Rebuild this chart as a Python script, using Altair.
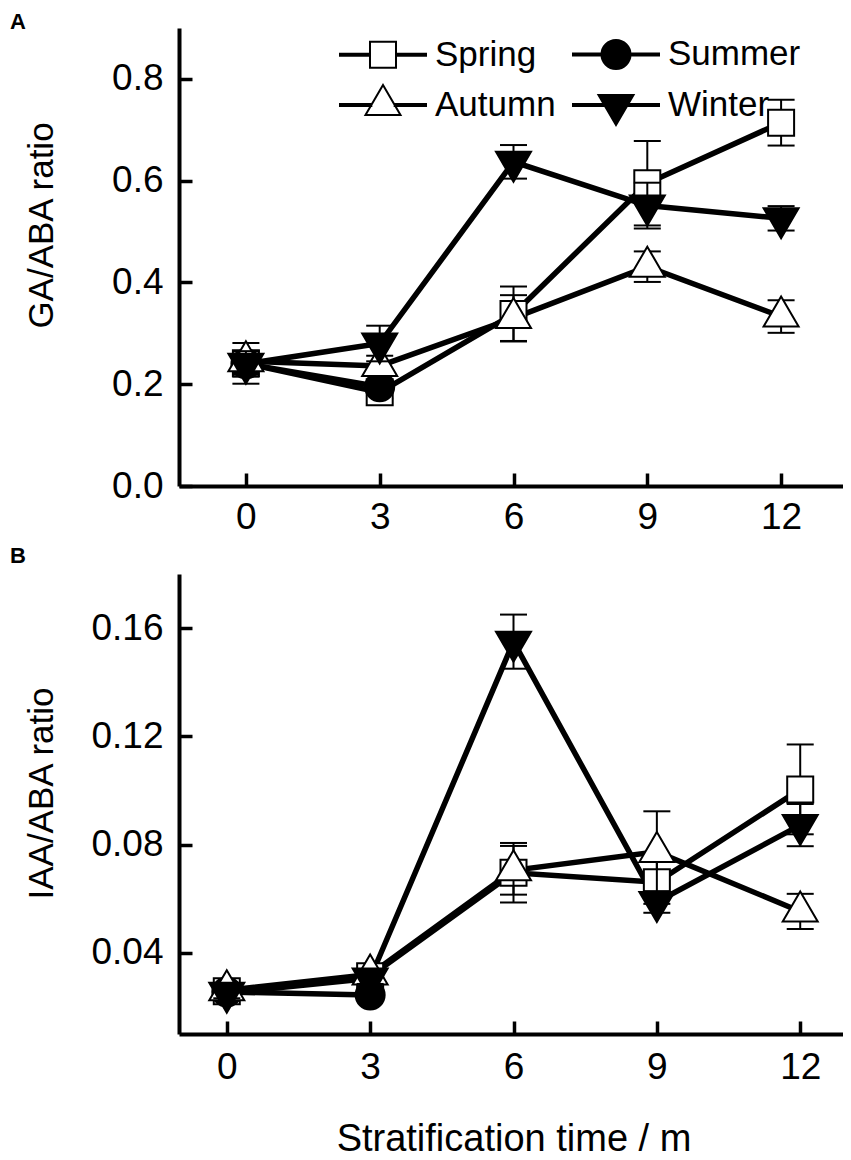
import altair as alt
import pandas as pd

# ---------------- data ----------------
time_points = [0, 3, 6, 9, 12]
seasons = ["Spring", "Summer", "Autumn", "Winter"]
x_ticks = [0, 3, 6, 9, 12]

# Panel A: GA/ABA ratio
ga_spring = [0.241, 0.184, 0.338, 0.595, 0.714]
ga_spring_err = [0.040, 0.012, 0.054, 0.083, 0.045]
ga_summer = [0.240, 0.195]
ga_summer_err = [0.020, 0.010]
ga_autumn = [0.245, 0.236, 0.330, 0.431, 0.333]
ga_autumn_err = [0.020, 0.020, 0.045, 0.030, 0.032]
ga_winter = [0.240, 0.280, 0.637, 0.551, 0.526]
ga_winter_err = [0.025, 0.035, 0.033, 0.045, 0.024]
ga_ticks = [0.0, 0.2, 0.4, 0.6, 0.8]

# Panel B: IAA/ABA ratio
iaa_spring = [0.0258, 0.0313, 0.0696, 0.0661, 0.1004]
iaa_spring_err = [0.0020, 0.0020, 0.0110, 0.0080, 0.0166]
iaa_summer = [0.0255, 0.0244]
iaa_summer_err = [0.0015, 0.0015]
iaa_autumn = [0.0262, 0.0320, 0.0705, 0.0773, 0.0553]
iaa_autumn_err = [0.0020, 0.0020, 0.0090, 0.0150, 0.0065]
iaa_winter = [0.0252, 0.0305, 0.1550, 0.0588, 0.0872]
iaa_winter_err = [0.0020, 0.0020, 0.0100, 0.0040, 0.0078]
iaa_ticks = [0.04, 0.08, 0.12, 0.16]

# ---------------- style ----------------
FONT = "Liberation Sans"
MARK_PATH = {
    "Spring": "M-0.867,-0.867H0.867V0.867H-0.867Z",
    "Summer": "M-0.967,0A0.967,0.967 0 1,0 0.967,0A0.967,0.967 0 1,0 -0.967,0Z",
    "Autumn": "M0,-1.333L1.167,0.667L-1.167,0.667Z",
    "Winter": "M0,1.333L1.167,-0.667L-1.167,-0.667Z",
}
EDGE = {"Spring": 0.867, "Summer": 0.967, "Autumn": 0.778, "Winter": 0.778}
FILL = {"Spring": "white", "Summer": "black", "Autumn": "white", "Winter": "black"}


def stub_path(a):
    return (f"M-2.867,-0.067H-{a}V0.067H-2.867Z "
            f"M{a},-0.067H2.867V0.067H{a}Z ")


LEGEND_PATH = [stub_path(EDGE[s]) + MARK_PATH[s] for s in seasons]


def build_df(series, errs):
    rows = []
    for s in seasons:
        for t, v, e in zip(time_points, series[s], errs[s]):
            rows.append({"season": s, "time": t, "value": v,
                         "lo": v - e, "hi": v + e})
    return pd.DataFrame(rows)


df_a = build_df(
    {"Spring": ga_spring, "Summer": ga_summer, "Autumn": ga_autumn, "Winter": ga_winter},
    {"Spring": ga_spring_err, "Summer": ga_summer_err, "Autumn": ga_autumn_err, "Winter": ga_winter_err},
)
df_b = build_df(
    {"Spring": iaa_spring, "Summer": iaa_summer, "Autumn": iaa_autumn, "Winter": iaa_winter},
    {"Spring": iaa_spring_err, "Summer": iaa_summer_err, "Autumn": iaa_autumn_err, "Winter": iaa_winter_err},
)

W = 669

LEG = dict(
    orient="none", legendX=161, legendY=8.5, direction="horizontal", columns=2,
    columnPadding=12, rowPadding=7, title=None,
    labelFont=FONT, labelFontSize=35, labelColor="black", labelOffset=34.5, labelLimit=400,
    symbolSize=900, symbolOffset=25.5, symbolStrokeWidth=2, symbolOpacity=1,
)


def panel(df, xdom, ydom, yticks, yfmt, ytitle, ytitle_y, xlabel_pad,
          xtitle, xtitle_y, letter, letter_offset, h, legend):
    xs = alt.Scale(domain=xdom, nice=False, zero=False)
    ys = alt.Scale(domain=ydom, nice=False, zero=False)
    base = alt.Chart(df)

    xaxis_kw = dict(orient="bottom", values=x_ticks, format="d", ticks=False, tickSize=0,
                    labelPadding=xlabel_pad, labelFont=FONT, labelFontSize=37,
                    labelColor="black", labelFlush=False, domainColor="black",
                    domainWidth=4, grid=False, title=xtitle, titleFont=FONT,
                    titleFontSize=38, titleFontWeight="normal", titleColor="black")
    if xtitle:
        xaxis_kw.update(titleY=xtitle_y, titleBaseline="alphabetic")
    x_main_axis = alt.Axis(**xaxis_kw)
    y_main_axis = alt.Axis(orient="left", values=yticks, format=yfmt, ticks=False,
                           tickSize=0, labelPadding=16, labelFont=FONT, labelFontSize=37,
                           labelColor="black", labelFlush=False, domainColor="black",
                           domainWidth=4, grid=False, title=ytitle, titleFont=FONT,
                           titleFontSize=35, titleFontWeight="normal", titleColor="black",
                           titleX=-127, titleY=ytitle_y, titleBaseline="alphabetic",
                           titleAlign="center")
    x_tick_axis = alt.Axis(orient="top", offset=-h, values=x_ticks, labels=False,
                           domain=False, ticks=True, tickSize=13, tickWidth=3.5,
                           tickColor="black", grid=False, title="")
    y_tick_axis = alt.Axis(orient="right", offset=-W, values=yticks, labels=False,
                           domain=False, ticks=True, tickSize=13, tickWidth=3.5,
                           tickColor="black", grid=False, title="")

    lines = base.mark_line(color="black", strokeWidth=5.5).encode(
        x=alt.X("time:Q", scale=xs, axis=x_main_axis),
        y=alt.Y("value:Q", scale=ys, axis=y_main_axis),
        detail="season:N",
        order="time:Q",
    )
    layers = [lines]
    xa = alt.X("time:Q", scale=xs, axis=None)
    for s in seasons:
        sub = base.transform_filter(alt.datum.season == s)
        layers.append(sub.mark_rule(color="black", strokeWidth=2).encode(
            x=xa, y=alt.Y("lo:Q", scale=ys, axis=None), y2="hi:Q"))
        for col in ["lo", "hi"]:
            layers.append(sub.mark_tick(orient="horizontal", size=27, thickness=2,
                                        color="black", opacity=1).encode(
                x=xa, y=alt.Y(f"{col}:Q", scale=ys, axis=None)))
        layers.append(sub.mark_point(shape=MARK_PATH[s], size=900, filled=True,
                                     fill=FILL[s], stroke="black", strokeWidth=2,
                                     opacity=1).encode(
            x=xa, y=alt.Y("value:Q", scale=ys, axis=None)))
    layers.append(base.mark_point(opacity=0).encode(
        x=alt.X("time:Q", scale=xs, axis=x_tick_axis),
        y=alt.Y("value:Q", scale=ys, axis=y_tick_axis)))
    if legend:
        layers.append(base.mark_point(opacity=0, size=900, stroke="black",
                                      strokeWidth=2).encode(
            x=xa,
            y=alt.Y("value:Q", scale=ys, axis=None),
            shape=alt.Shape("season:N", scale=alt.Scale(domain=seasons, range=LEGEND_PATH),
                            legend=alt.Legend(**LEG)),
            fill=alt.Fill("season:N", scale=alt.Scale(domain=seasons,
                                                      range=[FILL[s] for s in seasons]),
                          legend=alt.Legend(**LEG)),
        ))
    return alt.layer(*layers).resolve_axis(x="independent", y="independent").properties(
        width=W, height=h,
        title=alt.TitleParams(text=letter, anchor="start", frame="group", font=FONT,
                              fontSize=22, fontWeight="bold", color="black", dx=-169,
                              offset=letter_offset, baseline="alphabetic"),
    )


panel_a = panel(df_a, [-1.5, 13.5], [0.0, 0.9], ga_ticks, ".1f", "GA/ABA ratio", 197,
                13, "", 0, "A", -23, 458, True)
panel_b = panel(df_b, [-1.0, 13.0], [0.01, 0.18], iaa_ticks, ".2f", "IAA/ABA ratio", 219,
                15, "Stratification time / m", 116, "B", -11, 460, False)

chart = alt.vconcat(panel_a, panel_b, spacing=10).properties(
    padding={"left": 2, "top": 3, "right": -5, "bottom": 0}
).configure(font=FONT).configure_view(strokeWidth=0)

chart.save("out.html", embed_options={"renderer": "svg", "actions": False})
